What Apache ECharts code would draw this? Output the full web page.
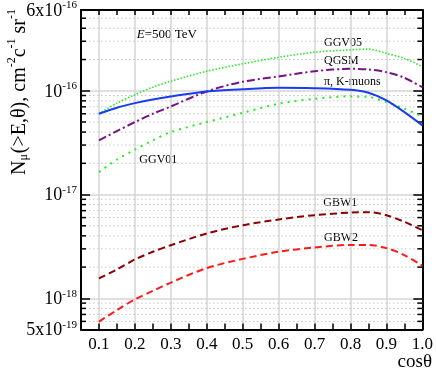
<!DOCTYPE html>
<html><head><meta charset="utf-8">
<script src="https://cdn.jsdelivr.net/npm/echarts@6/dist/echarts.min.js"></script>
<style>html,body{margin:0;padding:0;background:#fff}#c{width:436px;height:373px}</style>
</head><body><div id="c"></div>
<script>
// cos(theta) sample points
const cosTheta = [0.1, 0.15, 0.2, 0.25, 0.3, 0.4, 0.5, 0.6, 0.7, 0.8, 0.85, 0.9, 0.95, 1.0];
// Nμ(>E,θ) values
const ggv05 = [6.01e-17, 7.60e-17, 9.15e-17, 1.083e-16, 1.236e-16, 1.542e-16, 1.818e-16, 2.10e-16, 2.35e-16, 2.48e-16, 2.52e-16, 2.29e-16, 2.05e-16, 1.71e-16];
const qgsm  = [3.33e-17, 4.09e-17, 4.99e-17, 6.01e-17, 7.06e-17, 9.85e-17, 1.222e-16, 1.374e-16, 1.542e-16, 1.629e-16, 1.604e-16, 1.51e-16, 1.333e-16, 1.083e-16];
const piK   = [6.01e-17, 6.87e-17, 7.60e-17, 8.25e-17, 8.81e-17, 9.85e-17, 1.036e-16, 1.069e-16, 1.059e-16, 1.022e-16, 9.57e-17, 8.06e-17, 6.22e-17, 4.64e-17];
const ggv01 = [1.65e-17, 2.17e-17, 2.71e-17, 3.33e-17, 4.00e-17, 4.99e-17, 6.13e-17, 7.50e-17, 8.38e-17, 8.81e-17, 8.71e-17, 7.77e-17, 6.71e-17, 5.66e-17];
const gbw1  = [1.556e-18, 1.90e-18, 2.37e-18, 2.81e-18, 3.25e-18, 4.22e-18, 5.07e-18, 5.75e-18, 6.33e-18, 6.71e-18, 6.76e-18, 6.33e-18, 5.46e-18, 4.54e-18];
const gbw2  = [5.96e-19, 7.71e-19, 9.77e-19, 1.18e-18, 1.42e-18, 1.96e-18, 2.40e-18, 2.81e-18, 3.09e-18, 3.27e-18, 3.27e-18, 3.05e-18, 2.61e-18, 2.06e-18];
// axis ranges and ticks
const xRange = [0.05, 1.0];
const xTickStep = 0.05;
const yRange = [5e-19, 6e-16];
const yMinorTicks = [6e-19, 7e-19, 8e-19, 9e-19,
  2e-18, 3e-18, 4e-18, 5e-18, 6e-18, 7e-18, 8e-18, 9e-18,
  2e-17, 3e-17, 4e-17, 5e-17, 6e-17, 7e-17, 8e-17, 9e-17,
  2e-16, 3e-16, 4e-16, 5e-16];
const curveLabels = ['GGV05', 'QGSM', 'π, K-muons', 'GGV01', 'GBW1', 'GBW2'];

const FONT = 'Liberation Serif, Times New Roman, serif';
const chart = echarts.init(document.getElementById('c'));

function fmtY(v) {
  const e = Math.floor(Math.log10(v) + 1e-6);
  const m = Math.round(v / Math.pow(10, e));
  return (m === 1 ? '{b|10}' : '{b|' + m + 'x10}') + '{s|' + e + '}';
}
const yRich = {
  b: {fontFamily: FONT, fontSize: 18, color: '#000', lineHeight: 20, verticalAlign: 'bottom'},
  s: {fontFamily: FONT, fontSize: 11, color: '#000', lineHeight: 20, verticalAlign: 'top'}
};

function pairs(arr) { return cosTheta.map((c, i) => [c, arr[i]]); }

function lineSeries(name, arr, color, width, dash) {
  return {
    type: 'line', name: name, data: pairs(arr), smooth: 0.3, symbol: 'none',
    lineStyle: {color: color, width: width, type: dash, cap: 'butt'}, z: 3
  };
}

const option = {
  animation: false,
  grid: {left: 81, right: 11, top: 9.5, bottom: 43.4, containLabel: false},
  xAxis: [{
    type: 'value', min: xRange[0], max: xRange[1], interval: xTickStep, position: 'bottom',
    axisLine: {show: true, onZero: false, lineStyle: {color: '#000', width: 2}},
    axisTick: {show: true, inside: true, length: 6, lineStyle: {color: '#000', width: 1.5}},
    axisLabel: {
      formatter: v => (Math.round(v * 100) % 10 === 0 ? v.toFixed(1) : ''),
      fontFamily: FONT, fontSize: 17, color: '#000', margin: 6
    },
    splitLine: {show: true, lineStyle: {color: ['rgba(0,0,0,0)', '#d4d4d4'], width: 1.5}}
  }, {
    type: 'value', min: xRange[0], max: xRange[1], interval: xTickStep, position: 'top',
    axisLine: {show: true, onZero: false, lineStyle: {color: '#000', width: 2}},
    axisTick: {show: true, inside: true, length: 5, lineStyle: {color: '#000', width: 1.5}},
    axisLabel: {show: false}, splitLine: {show: false}
  }],
  yAxis: [{
    type: 'log', logBase: 10, min: yRange[0], max: yRange[1], position: 'left',
    axisLine: {show: true, onZero: false, lineStyle: {color: '#000', width: 2}},
    axisTick: {show: true, inside: true, length: 9, lineStyle: {color: '#000', width: 1.5}},
    axisLabel: {formatter: fmtY, rich: yRich, margin: 4},
    splitLine: {show: true, lineStyle: {color: '#d4d4d4', width: 1.5}}
  }, {
    type: 'log', logBase: 10, min: yRange[0], max: yRange[1], position: 'right',
    axisLine: {show: true, onZero: false, lineStyle: {color: '#000', width: 2}},
    axisTick: {show: true, inside: true, length: 9, lineStyle: {color: '#000', width: 1.5}},
    axisLabel: {show: false}, splitLine: {show: false}
  }],
  series: [
    {
      type: 'custom', name: 'minor', silent: true, z: 1,
      data: yMinorTicks.map(v => [0.5, v]),
      encode: {x: 0, y: 1},
      renderItem: function (params, api) {
        const cs = params.coordSys;
        const y = api.coord([0.5, api.value(1)])[1];
        return {type: 'group', children: [
          {type: 'line', shape: {x1: cs.x, y1: y, x2: cs.x + cs.width, y2: y},
            style: {stroke: '#c8c8c8', lineWidth: 1, lineDash: [1.5, 2.5]}},
          {type: 'line', shape: {x1: cs.x, y1: y, x2: cs.x + 5, y2: y},
            style: {stroke: '#000', lineWidth: 1.5}},
          {type: 'line', shape: {x1: cs.x + cs.width - 5, y1: y, x2: cs.x + cs.width, y2: y},
            style: {stroke: '#000', lineWidth: 1.5}}
        ]};
      }
    },
    lineSeries(curveLabels[3], ggv01, '#22ee22', 2, [2, 5]),
    lineSeries(curveLabels[0], ggv05, '#22ee22', 1.6, [1.5, 1.8]),
    lineSeries(curveLabels[1], qgsm, '#7a0f8a', 2, [8, 3, 2, 3]),
    lineSeries(curveLabels[2], piK, '#1a3cf0', 2, 'solid'),
    lineSeries(curveLabels[4], gbw1, '#8b0000', 2, [7, 4]),
    lineSeries(curveLabels[5], gbw2, '#ff1a1a', 2, [7, 4])
  ],
  graphic: [
    {type: 'text', x: 18, y: 92, rotation: Math.PI / 2, silent: true,
      style: {
        text: '{n|N}{u|μ}{n|(>E,θ), cm}{p|-2}{n|c}{p|-1}{n| sr}{p|-1}',
        align: 'center', verticalAlign: 'middle',
        rich: {
          n: {fontFamily: FONT, fontSize: 20, fill: '#000', lineHeight: 24, verticalAlign: 'bottom'},
          u: {fontFamily: FONT, fontSize: 12, fill: '#000', lineHeight: 24, verticalAlign: 'bottom', padding: [0, 1, 0, 0]},
          p: {fontFamily: FONT, fontSize: 12, fill: '#000', lineHeight: 24, verticalAlign: 'top'}
        }
      }},
    {type: 'text', x: 432, y: 362, silent: true,
      style: {text: 'cosθ', font: '19px ' + FONT, fill: '#000', align: 'right', verticalAlign: 'middle'}},
    {type: 'text', x: 136.7, y: 35, silent: true,
      style: {text: '{i|E}{n|=500 TeV}', verticalAlign: 'middle',
        rich: {i: {fontFamily: FONT, fontSize: 13, fontStyle: 'italic', fill: '#000'},
               n: {fontFamily: FONT, fontSize: 13, fill: '#000'}}}},
    {type: 'text', x: 324, y: 43, silent: true, style: {text: curveLabels[0], font: '12px ' + FONT, fill: '#000', verticalAlign: 'middle'}},
    {type: 'text', x: 324, y: 61, silent: true, style: {text: curveLabels[1], font: '12px ' + FONT, fill: '#000', verticalAlign: 'middle'}},
    {type: 'text', x: 324, y: 81.7, silent: true, style: {text: curveLabels[2], font: '12px ' + FONT, fill: '#000', verticalAlign: 'middle'}},
    {type: 'text', x: 139.3, y: 160, silent: true, style: {text: curveLabels[3], font: '12px ' + FONT, fill: '#000', verticalAlign: 'middle'}},
    {type: 'text', x: 323.3, y: 203.3, silent: true, style: {text: curveLabels[4], font: '12px ' + FONT, fill: '#000', verticalAlign: 'middle'}},
    {type: 'text', x: 324, y: 237.7, silent: true, style: {text: curveLabels[5], font: '12px ' + FONT, fill: '#000', verticalAlign: 'middle'}}
  ]
};
chart.setOption(option);
</script>
</body></html>
